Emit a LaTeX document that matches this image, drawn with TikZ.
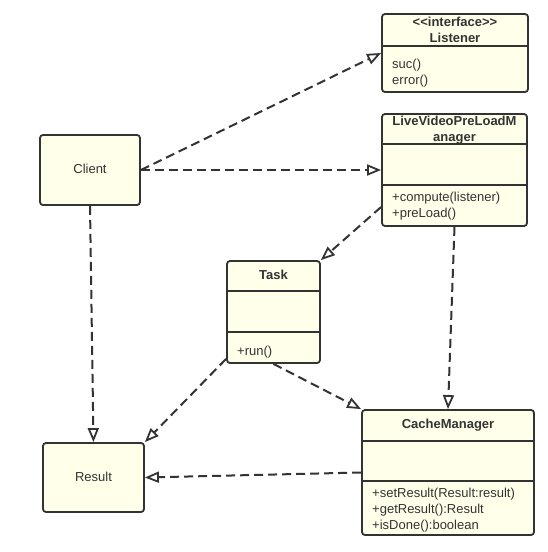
\documentclass[tikz,border=0pt]{standalone}
\usepackage{fontspec}
\setmainfont{Liberation Sans}
\usetikzlibrary{arrows.meta,calc}
\definecolor{boxfill}{HTML}{FFFFEA}
\definecolor{ink}{HTML}{333333}
\tikzset{
  umlbox/.style={draw=ink, fill=boxfill, line width=1.8pt, rounded corners=3pt, inner sep=0pt},
  sepline/.style={draw=ink, line width=1.8pt},
  title/.style={font=\fontsize{13}{15}\selectfont\bfseries, text=ink, inner sep=0pt, anchor=base},
  member/.style={font=\fontsize{13}{15}\selectfont, text=ink, inner sep=0pt, anchor=base west},
  plain/.style={font=\fontsize{13}{15}\selectfont, text=ink, inner sep=0pt},
  realize/.style={draw=ink, line width=2pt, dash pattern=on 9pt off 5pt,
    -{Triangle[open, length=14pt, width=11pt, line width=1.8pt]}}
}
\begin{document}
\begin{tikzpicture}[x=1pt, y=-1pt]
\useasboundingbox (0,0) rectangle (547,552);
% Listener
\node[umlbox, minimum width=146pt, minimum height=78pt] (listener) at (455,53) {};
\draw[sepline] (382,46) -- (528,46);
\node[title] (listenerst) at (455,26) {{<}{<}interface{>}{>}};
\node[title] (listenername) at (455,42) {Listener};
\node[member] (suc) at (392,68) {suc()};
\node[member] (err) at (392,84) {error()};
% LiveVideoPreLoadManager
\node[umlbox, minimum width=145pt, minimum height=112pt] (lvm) at (454.5,170) {};
\draw[sepline] (382,144) -- (527,144);
\draw[sepline] (382,185) -- (527,185);
\node[title] (lvmname1) at (454.5,125) {LiveVideoPreLoadM};
\node[title] (lvmname2) at (454.5,141) {anager};
\node[member] (compute) at (392,201) {+compute(listener)};
\node[member] (preload) at (392,217) {+preLoad()};
% Client
\node[umlbox, minimum width=100pt, minimum height=70pt] (client) at (90,170) {};
\node[plain] (clientname) at (90,169) {Client};
% Task
\node[umlbox, minimum width=93pt, minimum height=102pt] (task) at (273.5,312) {};
\draw[sepline] (227,291) -- (320,291);
\draw[sepline] (227,332) -- (320,332);
\node[title] (taskname) at (273.5,279) {Task};
\node[member] (run) at (237,355) {+run()};
% CacheManager
\node[umlbox, minimum width=172pt, minimum height=125pt] (cache) at (448,472.5) {};
\draw[sepline] (362,441) -- (534,441);
\draw[sepline] (362,481) -- (534,481);
\node[title] (cachename) at (448,428) {CacheManager};
\node[member] (setres) at (372,497) {+setResult(Result:result)};
\node[member] (getres) at (372,513) {+getResult():Result};
\node[member] (isdone) at (372,529) {+isDone():boolean};
% Result
\node[umlbox, minimum width=101pt, minimum height=69pt] (result) at (93.5,477.5) {};
\node[plain] (resultname) at (93.5,477) {Result};
% connectors
\draw[realize] (client.east) -- (listener.west);
\draw[realize] (client.east) -- (lvm.west);
\draw[realize] ($(lvm.west)+(0,37)$) -- (task.north east);
\draw[realize] (lvm.south) -- (cache.north);
\draw[realize] (task.south) -- (cache.north west);
\draw[realize] ($(task.south west)+(0,-5)$) -- (result.north east);
\draw[realize] (client.south) -- (result.north);
\draw[realize] (cache.west) -- (result.east);
\end{tikzpicture}
\end{document}
